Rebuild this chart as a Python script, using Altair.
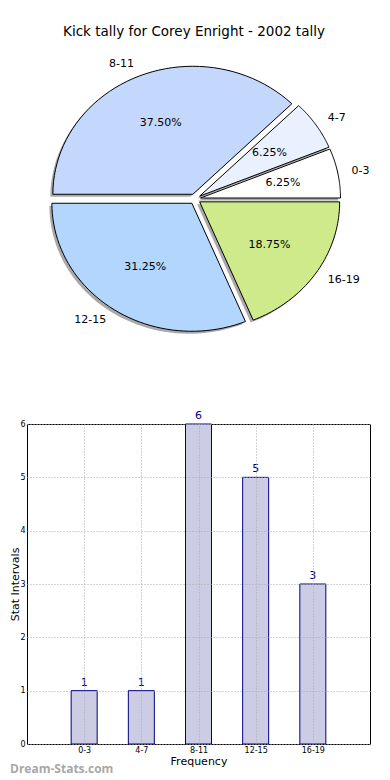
import altair as alt
import pandas as pd

# ---------------- data ----------------
categories = ["0-3", "4-7", "8-11", "12-15", "16-19"]
counts = [1, 1, 6, 5, 3]
slice_colors = ["#ffffff", "#eaf1fe", "#c4d8fe", "#b3d6fe", "#cfea8a"]
y_ticks = [0, 1, 2, 3, 4, 5, 6]

TITLE = "Kick tally for Corey Enright - 2002 tally"
WATERMARK = "Dream-Stats.com"
FONT = "DejaVu Sans"

pie_df = pd.DataFrame({"cat": categories, "value": counts, "idx": list(range(len(categories)))})
bar_df = pd.DataFrame({"cat": categories, "count": counts})
wm_df = pd.DataFrame({"t": [WATERMARK]})

# ---------------- pie layout (pixels) ----------------
PW, PH = 343, 306
RX, RY = 140, 128          # pixels per radius unit (elliptical pie, like matplotlib)
CX, CY = 168, 159          # pie centre inside the panel
EXPLODE = 0.04
N = 48

xs = alt.Scale(domain=[-CX / RX, (PW - CX) / RX], nice=False, zero=False)
ys = alt.Scale(domain=[-(PH - CY) / RY, CY / RY], nice=False, zero=False)

base = (
    alt.Chart(pie_df)
    .transform_joinaggregate(total="sum(value)")
    .transform_window(cum="sum(value)", sort=[alt.SortField("idx")], frame=[None, 0])
    .transform_calculate(a0="2*PI*(datum.cum - datum.value)/datum.total")
    .transform_calculate(a1="2*PI*datum.cum/datum.total")
    .transform_calculate(mid="(datum.a0 + datum.a1)/2")
    .transform_calculate(ex=f"{EXPLODE}*cos(datum.mid)")
    .transform_calculate(ey=f"{EXPLODE}*sin(datum.mid)")
    .transform_calculate(pct="format(datum.value/datum.total, '.2%')")
)

poly = (
    base.transform_calculate(steps=f"sequence(0, {N + 3})")
    .transform_flatten(["steps"], as_=["s"])
    .transform_calculate(t=f"clamp((datum.s - 1)/{N}, 0, 1)")
    .transform_calculate(ang="datum.a0 + (datum.a1 - datum.a0)*datum.t")
    .transform_calculate(onarc=f"(datum.s >= 1 && datum.s <= {N + 1}) ? 1 : 0")
    .transform_calculate(px="datum.ex + datum.onarc*cos(datum.ang)")
    .transform_calculate(py="datum.ey + datum.onarc*sin(datum.ang)")
)

enc_xy = dict(
    x=alt.X("px:Q", scale=xs, axis=None),
    y=alt.Y("py:Q", scale=ys, axis=None),
    detail="cat:N",
    order=alt.Order("s:Q"),
)

shadows = poly.mark_line(
    filled=True, fill="#707070", fillOpacity=0.6, strokeOpacity=0, xOffset=-2.5, yOffset=2.5
).encode(**enc_xy)

wedges = poly.mark_line(filled=True, stroke="black", strokeWidth=1, strokeJoin="round").encode(
    fill=alt.Fill("cat:N", scale=alt.Scale(domain=categories, range=slice_colors), legend=None),
    **enc_xy,
)

labpos = (
    base.transform_calculate(lx="datum.ex + 1.1*cos(datum.mid)")
    .transform_calculate(ly="datum.ey + 1.1*sin(datum.mid)")
    .transform_calculate(qx="datum.ex + 0.6*cos(datum.mid)")
    .transform_calculate(qy="datum.ey + 0.6*sin(datum.mid)")
)

lab_left = labpos.transform_filter("cos(datum.mid) < 0").mark_text(
    align="right", baseline="middle", font=FONT, fontSize=11, color="black"
).encode(x=alt.X("lx:Q", scale=xs, axis=None), y=alt.Y("ly:Q", scale=ys, axis=None), text="cat:N")

lab_right = labpos.transform_filter("cos(datum.mid) >= 0").mark_text(
    align="left", baseline="middle", font=FONT, fontSize=11, color="black"
).encode(x=alt.X("lx:Q", scale=xs, axis=None), y=alt.Y("ly:Q", scale=ys, axis=None), text="cat:N")

pct_text = labpos.mark_text(
    align="center", baseline="middle", font=FONT, fontSize=11, color="black"
).encode(x=alt.X("qx:Q", scale=xs, axis=None), y=alt.Y("qy:Q", scale=ys, axis=None), text="pct:N")

pie = alt.layer(shadows, wedges, lab_left, lab_right, pct_text).properties(
    width=PW,
    height=PH,
    title=alt.TitleParams(TITLE, font=FONT, fontSize=13.5, fontWeight="normal", anchor="middle",
                          offset=2, color="black", dx=(194 - 27) - PW / 2),
    view=alt.ViewBackground(stroke="transparent"),
)

# ---------------- bar chart ----------------
BW, BH = 343, 320

xb = alt.X(
    "cat:N",
    sort=categories,
    scale=alt.Scale(type="point", padding=1),
    axis=alt.Axis(
        title="Frequency", labelAngle=0, labelFontSize=8, labelFont=FONT, labelColor="black",
        labelPadding=2, ticks=False, domain=False, grid=True, gridDash=[1, 2], gridColor="#aaaaaa",
        titleFont=FONT, titleFontSize=11, titleFontWeight="normal", titleColor="black", titlePadding=1,
        zindex=1,
    ),
)
yb = alt.Y(
    "count:Q",
    scale=alt.Scale(domain=[0, 6], nice=False),
    axis=alt.Axis(
        title="Stat Intervals", values=y_ticks, format="d", labelFontSize=8, labelFont=FONT,
        labelColor="black", labelPadding=2, ticks=False, domain=False, grid=True, gridDash=[1, 2],
        gridColor="#aaaaaa", titleFont=FONT, titleFontSize=11, titleFontWeight="normal",
        titleColor="black", titleAngle=270, titleX=-9, titleY=BH / 2, titleAlign="center",
        titleBaseline="alphabetic", zindex=1,
    ),
)

bars = alt.Chart(bar_df).mark_bar(size=26, fill="#ccccE5", stroke="#000080", strokeWidth=1).encode(x=xb, y=yb)
vals = alt.Chart(bar_df).mark_text(
    color="#000080", font=FONT, fontSize=11, baseline="alphabetic", dy=-5
).encode(x=alt.X("cat:N", sort=categories), y="count:Q", text="count:Q")
wm = alt.Chart(wm_df).mark_text(
    align="left", baseline="alphabetic", font="Open Sans", fontSize=12, fontWeight="bold", color="#a8a8a8"
).encode(x=alt.value(-17), y=alt.value(BH + 29), text="t:N")

bar = alt.layer(bars, vals, wm).properties(
    width=BW, height=BH, view=alt.ViewBackground(stroke="black", strokeWidth=1)
)

chart = alt.vconcat(pie, bar, spacing=62).properties(
    padding={"left": 0, "top": 16, "right": 0, "bottom": 0}
).configure(background="white")

chart.save("out.html", embed_options={"renderer": "svg", "actions": False})
